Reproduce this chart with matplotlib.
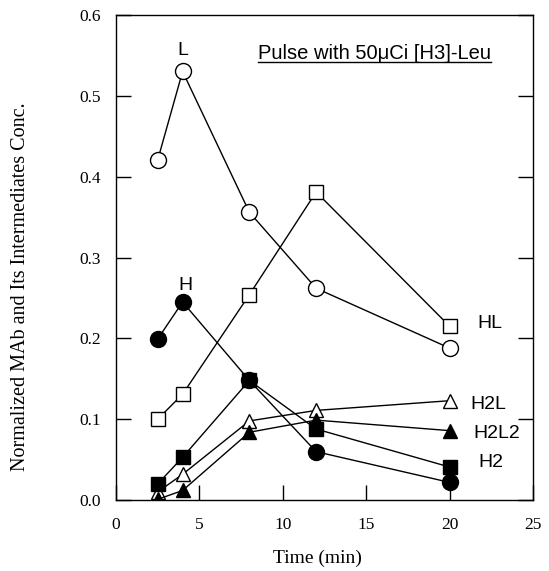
import matplotlib
matplotlib.use("Agg")
import matplotlib.pyplot as plt
from matplotlib.lines import Line2D

# time points (min)
time = [2.5, 4, 8, 12, 20]

# normalized concentrations
conc_L = [0.42, 0.53, 0.356, 0.262, 0.188]
conc_HL = [0.10, 0.131, 0.254, 0.381, 0.215]
conc_H = [0.199, 0.245, 0.148, 0.060, 0.022]
conc_H2L = [0.010, 0.032, 0.098, 0.111, 0.123]
conc_H2L2 = [0.001, 0.012, 0.084, 0.099, 0.086]
conc_H2 = [0.020, 0.053, 0.148, 0.088, 0.041]

x_ticks = [0, 5, 10, 15, 20, 25]
y_ticks = [0.0, 0.1, 0.2, 0.3, 0.4, 0.5, 0.6]

serif = ["Liberation Serif", "DejaVu Serif"]
sans = ["Liberation Sans", "DejaVu Sans"]

fig = plt.figure(figsize=(5.49, 5.71), dpi=100)
ax = fig.add_axes([0.211, 0.124, 0.760, 0.850])

common = dict(color="black", linewidth=1.0, markeredgecolor="black", markeredgewidth=1.0)
ax.plot(time, conc_L, marker="o", markersize=11.5, markerfacecolor="white", **common)
ax.plot(time, conc_HL, marker="s", markersize=9.5, markerfacecolor="white", **common)
ax.plot(time, conc_H, marker="o", markersize=11.5, markerfacecolor="black", **common)
ax.plot(time, conc_H2L, marker="^", markersize=10.5, markerfacecolor="white", **common)
ax.plot(time, conc_H2L2, marker="^", markersize=10.5, markerfacecolor="black", **common)
ax.plot(time, conc_H2, marker="s", markersize=9.5, markerfacecolor="black", **common)

ax.set_xlim(0, 25)
ax.set_ylim(0, 0.6)
ax.set_xticks(x_ticks)
ax.set_yticks(y_ticks)
ax.set_xticklabels([str(t) for t in x_ticks], fontfamily=serif, fontsize=12.5)
ax.set_yticklabels([f"{t:.1f}" for t in y_ticks], fontfamily=serif, fontsize=12.5)
ax.tick_params(direction="in", length=11, width=1.0, left=True, right=True, bottom=True, top=False)
ax.tick_params(axis="y", pad=11)
ax.tick_params(axis="x", pad=12)

ax.set_xlabel("Time (min)", fontfamily=serif, fontsize=14)
ax.set_ylabel("Normalized MAb and Its Intermediates Conc.", fontfamily=serif, fontsize=14.5)
ax.xaxis.set_label_coords(0.483, -0.102)
ax.yaxis.set_label_coords(-0.205, 0.44)

for s in ax.spines.values():
    s.set_linewidth(1.0)

# series labels
lbl = dict(fontfamily=sans, fontsize=14, ha="center", va="center")
ax.text(4.0, 0.556, "L", **lbl)
ax.text(4.2, 0.266, "H", **lbl)
ax.text(22.4, 0.219, "HL", **lbl)
ax.text(22.3, 0.118, "H2L", **lbl)
ax.text(22.8, 0.082, "H2L2", **lbl)
ax.text(22.5, 0.047, "H2", **lbl)

title = ax.text(15.5, 0.552, "Pulse with 50\u03bcCi [H3]-Leu", fontfamily=sans, fontsize=14.5,
                ha="center", va="center")

# underline the annotation
fig.canvas.draw()
bb = title.get_window_extent().transformed(ax.transAxes.inverted())
ax.add_line(Line2D([bb.x0, bb.x1], [bb.y0 + 0.002, bb.y0 + 0.002], transform=ax.transAxes,
                   color="black", linewidth=1.0))

fig.savefig("out.png", dpi=100)
